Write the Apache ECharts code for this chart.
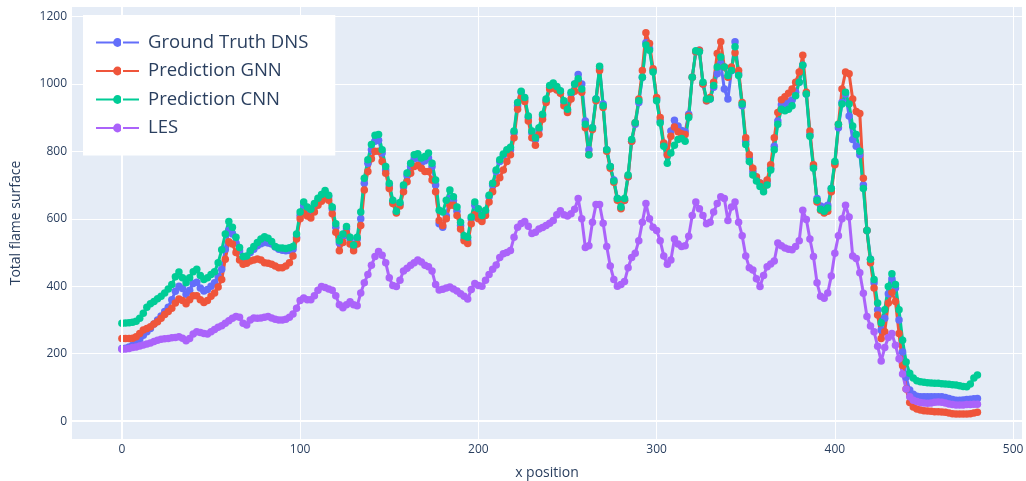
<!DOCTYPE html>
<html>
<head>
<meta charset="utf-8">
<script src="https://cdn.jsdelivr.net/npm/echarts@6/dist/echarts.min.js"></script>
<style>
  html, body { margin: 0; padding: 0; background: #ffffff; }
  #chart { width: 1026px; height: 481px; }
</style>
</head>
<body>
<div id="chart"></div>
<script>
// Samples are taken every xStep units along x, starting at x = 0.
const xStep = 2;

const seriesNames = ['Ground Truth DNS', 'Prediction GNN', 'Prediction CNN', 'LES'];

// Total flame surface per sample, one row per 20 units of x.
const groundTruthDNS = [
  215,216,220,225,232,243,255,265,275,288,
  300,312,325,338,360,385,400,393,376,388,
  408,412,395,386,390,400,410,428,450,510,
  565,555,528,505,482,485,500,510,520,526,
  530,528,525,516,510,507,505,506,510,545,
  610,640,628,620,640,655,665,678,665,630,
  575,528,550,570,540,515,540,600,705,765,
  805,830,833,795,745,698,650,620,643,695,
  728,755,778,780,766,772,780,755,700,585,
  575,608,660,655,622,580,540,535,600,640,
  620,600,620,665,700,740,770,788,800,805,
  855,935,975,955,900,855,835,865,905,950,
  990,995,988,978,945,920,970,1000,1028,1000,
  890,805,870,955,1045,940,805,755,715,660,
  632,655,725,830,880,945,1020,1122,1105,1040,
  955,890,820,790,860,892,875,862,858,910,
  1020,1095,1100,1000,950,955,990,1030,1060,985,
  955,1040,1125,1030,935,830,780,740,722,706,
  692,710,750,815,890,938,942,946,952,975,
  1005,1055,970,850,755,660,638,634,640,690,
  765,870,945,970,905,835,815,790,700,565,
  480,410,330,270,305,378,422,395,300,205,
  130,92,80,74,72,72,72,72,72,72,
  72,70,67,64,62,62,63,64,65,66,
  67
];

const predictionGNN = [
  245,245,245,246,250,260,270,275,280,288,
  295,305,316,325,335,350,362,358,348,360,
  372,372,360,352,358,370,380,398,420,480,
  532,525,500,478,465,468,475,478,481,478,
  470,468,465,460,455,455,460,470,490,540,
  600,617,608,602,620,640,652,665,655,615,
  560,505,530,557,525,505,525,580,685,740,
  778,800,800,770,735,690,645,617,638,680,
  710,735,755,758,750,740,740,715,680,595,
  580,600,640,640,610,570,535,527,585,612,
  600,592,610,650,680,705,722,745,770,790,
  840,925,960,948,890,840,818,850,895,945,
  985,988,982,972,935,915,955,978,1005,975,
  870,790,865,950,1040,930,800,750,708,655,
  630,655,725,830,885,955,1040,1152,1120,1045,
  960,900,825,790,845,872,858,852,850,905,
  1020,1095,1100,1000,950,960,1005,1090,1125,1050,
  1020,1050,1092,1040,945,840,790,750,725,706,
  696,715,760,840,915,953,962,972,985,1005,
  1035,1085,975,860,760,650,625,617,622,680,
  760,880,985,1035,1030,955,918,912,720,565,
  470,395,315,245,265,350,382,355,260,165,
  95,55,42,36,33,31,30,29,28,28,
  27,26,24,22,21,21,21,21,22,24,
  26
];

const predictionCNN = [
  290,291,292,293,296,305,320,338,348,355,
  363,370,380,392,405,428,442,425,410,425,
  443,450,432,420,425,435,443,470,508,555,
  592,575,545,515,488,490,505,518,530,540,
  547,542,533,518,513,513,512,514,518,555,
  620,650,635,628,645,661,672,684,670,635,
  585,535,555,577,545,522,545,620,720,775,
  820,848,850,805,755,705,655,622,648,700,
  736,765,790,793,780,785,795,765,715,625,
  620,655,685,665,635,590,550,545,605,650,
  630,610,625,670,705,745,775,792,805,812,
  860,945,978,960,905,860,840,870,910,955,
  995,1003,992,980,950,925,975,1000,1015,985,
  880,790,870,955,1052,935,805,755,712,660,
  635,660,730,835,885,950,1020,1115,1100,1035,
  950,884,815,765,795,818,835,838,830,900,
  1020,1098,1095,1005,955,955,995,1050,1080,1050,
  1025,1040,1110,1025,940,820,770,730,712,696,
  680,700,745,805,880,925,920,925,935,965,
  1005,1055,970,845,750,655,628,622,632,690,
  770,880,940,975,940,875,850,800,690,565,
  480,420,350,292,330,399,437,405,330,240,
  175,142,128,120,117,115,114,113,112,112,
  111,110,109,108,107,105,103,102,110,128,
  137
];

const les = [
  213,214,215,218,220,223,226,229,232,236,
  240,243,244,245,247,248,250,246,238,245,
  258,265,263,260,258,265,272,278,283,290,
  298,305,310,308,290,285,300,306,305,306,
  308,310,306,302,300,300,302,308,318,335,
  358,365,360,360,372,388,399,396,392,388,
  372,345,336,345,354,345,342,380,410,435,
  462,488,503,492,470,425,402,399,418,445,
  453,462,470,478,472,462,458,445,405,389,
  391,395,398,392,386,378,370,362,390,408,
  402,400,418,435,450,463,485,496,500,506,
  545,575,586,592,578,556,560,570,574,580,
  587,595,612,624,612,608,615,628,660,600,
  515,520,590,642,642,587,518,460,420,400,
  405,414,455,485,498,535,590,645,600,575,
  565,535,490,465,478,540,525,518,520,548,
  610,650,630,610,585,590,620,645,665,660,
  595,635,650,590,550,490,455,448,422,399,
  432,458,466,475,528,520,513,510,508,518,
  535,625,598,540,488,410,370,364,380,430,
  498,550,600,640,605,490,482,440,379,310,
  282,265,222,178,218,248,260,225,185,140,
  95,72,62,58,55,54,53,54,56,57,
  56,54,51,49,48,48,48,49,49,50,
  50
];

const seriesValues = [groundTruthDNS, predictionGNN, predictionCNN, les];
const seriesColors = ['#636efa', '#EF553B', '#00cc96', '#ab63fa'];

const textColor = '#2a3f5f';
const fontFamily = '"Open Sans", "Noto Sans", sans-serif';

function toPoints(values) {
  return values.map((v, i) => [i * xStep, v]);
}

const chart = echarts.init(document.getElementById('chart'), null, { renderer: 'canvas' });

const lineSeries = seriesValues.map((values, k) => ({
  name: seriesNames[k],
  type: 'line',
  data: toPoints(values),
  symbol: 'circle',
  symbolSize: 7.5,
  showSymbol: true,
  z: 3,
  lineStyle: { width: 3, color: seriesColors[k] },
  itemStyle: { color: seriesColors[k] },
  emphasis: { disabled: true },
  animation: false
}));

// Thicker white zero lines under the data.
const zeroLines = {
  name: 'zero',
  type: 'line',
  data: [],
  z: 1,
  silent: true,
  markLine: {
    silent: true,
    symbol: ['none', 'none'],
    label: { show: false },
    lineStyle: { color: '#ffffff', width: 2, type: 'solid' },
    emphasis: { disabled: true },
    data: [{ xAxis: 0 }, { yAxis: 0 }],
    animation: false
  }
};

const plainNumber = (v) => String(v);

chart.setOption({
  animation: false,
  textStyle: { fontFamily: fontFamily },
  grid: {
    left: 72, right: 4, top: 7, bottom: 42,
    outerBoundsMode: 'none',
    show: true, backgroundColor: '#E5ECF6', borderWidth: 0
  },
  legend: {
    data: seriesNames,
    orient: 'vertical',
    left: 83,
    top: 15,
    backgroundColor: '#ffffff',
    padding: [18, 27, 18, 12],
    itemWidth: 43,
    itemHeight: 11,
    itemGap: 9.5,
    textStyle: { fontSize: 18.5, color: textColor, fontFamily: fontFamily, lineHeight: 19, padding: [0, 0, 0, 4] }
  },
  xAxis: {
    type: 'value',
    min: -28,
    max: 505,
    splitNumber: 5,
    name: 'x position',
    nameLocation: 'middle',
    nameGap: 27,
    nameTextStyle: { fontSize: 14, color: textColor },
    axisLine: { show: false },
    axisTick: { show: false },
    axisLabel: { color: textColor, fontSize: 12, margin: 5, formatter: plainNumber, showMinLabel: false, showMaxLabel: false },
    splitLine: { show: true, showMinLine: false, showMaxLine: false, lineStyle: { color: '#ffffff', width: 1 } }
  },
  yAxis: {
    type: 'value',
    min: -53,
    max: 1228,
    splitNumber: 6,
    name: 'Total flame surface',
    nameLocation: 'middle',
    nameGap: 49,
    nameTextStyle: { fontSize: 14, color: textColor },
    axisLine: { show: false },
    axisTick: { show: false },
    axisLabel: { color: textColor, fontSize: 12, margin: 5, formatter: plainNumber, showMinLabel: false, showMaxLabel: false },
    splitLine: { show: true, showMinLine: false, showMaxLine: false, lineStyle: { color: '#ffffff', width: 1 } }
  },
  series: [zeroLines].concat(lineSeries)
});
</script>
</body>
</html>
